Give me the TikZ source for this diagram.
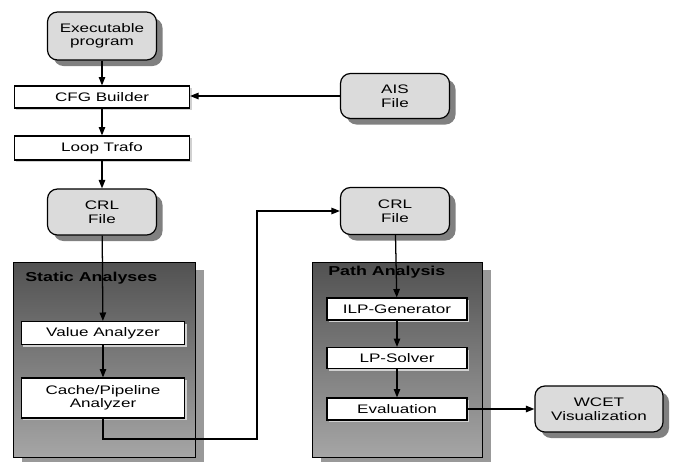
\documentclass[tikz,border=0pt]{standalone}
\usepackage{fontspec}
\usepackage{tikz}
\usetikzlibrary{arrows.meta,shadows}
\newfontfamily\diafont[FakeStretch=1.38]{Liberation Sans}

\begin{document}
\begin{tikzpicture}[x=0.025cm, y=-0.025cm,
  every node/.style={font=\diafont\fontsize{8.8}{9.6}\selectfont, align=center},
  filebox/.style={draw, line width=0.85pt, rounded corners=0.25cm, fill=gray!28,
    inner sep=0pt, drop shadow={shadow xshift=0.15cm, shadow yshift=-0.15cm, fill=black!50, opacity=1}},
  toolbox/.style={draw, line width=0.8pt, fill=white, inner sep=0pt,
    drop shadow={shadow xshift=0.05cm, shadow yshift=-0.05cm, fill=black!18, opacity=1}},
  groupbox/.style={draw, line width=0.8pt, inner sep=0pt, anchor=north west,
    top color=black!68, bottom color=black!35,
    drop shadow={shadow xshift=0.2cm, shadow yshift=-0.175cm, fill=black!40, opacity=1}},
  grouplabel/.style={font=\diafont\bfseries\fontsize{9.2}{10}\selectfont, anchor=base west, inner sep=0pt},
  flow/.style={line width=0.9pt, -{Triangle[length=6pt,width=4.6pt]}}]
  \useasboundingbox (0,0) rectangle (676,461);
  % analysis groups
  \node[groupbox, minimum width=4.55cm, minimum height=4.875cm] (static) at (13,262) {};
  \node[groupbox, minimum width=4.25cm, minimum height=4.875cm] (path) at (312,262) {};
  \node[grouplabel] (staticlbl) at (25,281) {Static Analyses};
  \node[grouplabel] (pathlbl) at (328,275) {Path Analysis};
  % input and result files
  \node[filebox, minimum width=2.725cm, minimum height=1.2cm] (exe) at (102,36) {Executable\\program};
  \node[filebox, minimum width=2.725cm, minimum height=1.125cm] (ais) at (395,96) {AIS\\File};
  \node[filebox, minimum width=2.725cm, minimum height=1.15cm] (crlA) at (102,212) {CRL\\File};
  \node[filebox, minimum width=2.725cm, minimum height=1.175cm] (crlB) at (395,211) {CRL\\File};
  \node[filebox, minimum width=3.2cm, minimum height=1.15cm] (wcet) at (599,409) {WCET\\Visualization};
  % tools
  \node[toolbox, minimum width=4.375cm, minimum height=0.55cm] (cfg) at (102,97) {CFG Builder};
  \node[toolbox, minimum width=4.375cm, minimum height=0.6cm] (loop) at (102,148) {Loop Trafo};
  \node[toolbox, minimum width=4.075cm, minimum height=0.575cm] (value) at (103,333) {Value Analyzer};
  \node[toolbox, minimum width=4.075cm, minimum height=1.0cm] (cache) at (103,398) {Cache/Pipeline\\Analyzer};
  \node[toolbox, minimum width=3.5cm, minimum height=0.55cm] (ilp) at (397,309) {ILP-Generator};
  \node[toolbox, minimum width=3.5cm, minimum height=0.525cm] (lp) at (397,358) {LP-Solver};
  \node[toolbox, minimum width=3.5cm, minimum height=0.55cm] (eval) at (397,409) {Evaluation};
  % connectors
  \coordinate (back) at (257,439);
  \draw[flow] (exe) -- (cfg);
  \draw[flow] (ais.west) -- (ais.west -| cfg.east);
  \draw[flow] (cfg) -- (loop);
  \draw[flow] (loop) -- (crlA);
  \draw[flow] (crlA) -- (value);
  \draw[flow] (value) -- (cache);
  \draw[flow] (cache.south) |- (back) |- (crlB.west);
  \draw[flow] (crlB) -- (ilp);
  \draw[flow] (ilp) -- (lp);
  \draw[flow] (lp) -- (eval);
  \draw[flow] (eval) -- (wcet);
\end{tikzpicture}
\end{document}
